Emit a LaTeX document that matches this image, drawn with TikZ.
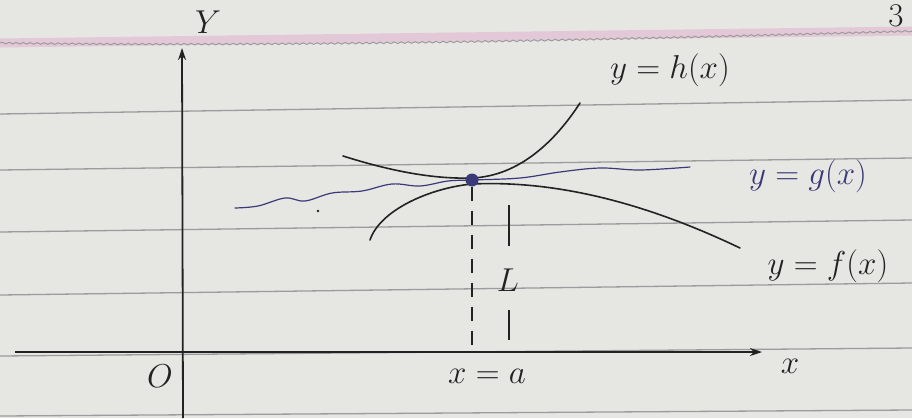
\documentclass[tikz,border=0pt]{standalone}
\usetikzlibrary{arrows.meta,decorations.pathmorphing}
\definecolor{paper}{HTML}{E6E6E3}
\definecolor{rule}{HTML}{9C9C9C}
\definecolor{pinkrule}{HTML}{E2B4CF}
\definecolor{ink}{HTML}{222222}
\definecolor{blueink}{HTML}{3B3A78}
\tikzset{
  ruled/.style={rule, line width=1.3pt},
  curve/.style={ink, line width=1.6pt, line cap=round},
  axis/.style={ink, line width=1.8pt, -{Stealth[length=12pt,width=8pt]}},
  lbl/.style={ink, font=\fontsize{24}{28}\selectfont, inner sep=1pt, scale=1.33},
  bluelbl/.style={blueink, font=\fontsize{24}{28}\selectfont, inner sep=1pt, scale=1.33},
}
\begin{document}
\begin{tikzpicture}[x=1pt,y=-1pt]
\fill[paper] (0,0) rectangle (912,418);
\useasboundingbox (0,0) rectangle (912,418);
% notebook rules
\draw[pinkrule, line width=9pt, opacity=0.6] (0,43) -- (912,31);
\draw[rule, line width=1pt, decorate, decoration={snake, amplitude=0.8pt, segment length=7pt}] (0,43) .. controls (300,47) and (600,40) .. (912,31);
\draw[ruled] (0,114) -- (912,100);
\draw[ruled] (0,170) -- (912,158);
\draw[ruled] (0,232) -- (912,220);
\draw[ruled] (0,295) -- (912,283);
\draw[ruled] (0,356) -- (912,348);
\draw[ruled] (0,416) -- (912,410);
% axes
\coordinate (ybot) at (183,418);
\coordinate (ytop) at (182,48);
\coordinate (xleft) at (15,352);
\coordinate (xright) at (762,352);
\draw[axis] (ybot) -- (ytop);
\draw[axis] (xleft) -- (xright);
\node[lbl] (ylab) at (208,22) {$Y$};
\node[lbl] (xlab) at (790,366) {$x$};
\node[lbl] (olab) at (160,376) {$O$};
% curves
\coordinate (P) at (472,180);
\draw[curve] (343,156) .. controls (400,174) and (440,179) .. (472,178) .. controls (520,176) and (556,140) .. (580,103);
\draw[curve] (370,240) .. controls (380,210) and (430,188) .. (472,184) .. controls (560,180) and (650,205) .. (740,248);
\draw[blueink, line width=1.2pt, line cap=round] plot[smooth, tension=0.6] coordinates {(235,208) (258,206) (285,198) (305,201) (332,193) (362,191) (392,184) (420,186) (448,181) (472,180) (520,178) (560,172) (600,168) (640,170) (690,167)};
\fill[ink] (318,211) circle (1.3pt);
\node[circle, fill=blueink, inner sep=0pt, minimum size=13pt] (dot) at (P) {};
% vertical dashed line
\coordinate (A) at (472,352);
\draw[ink, line width=1.3pt, dash pattern=on 14pt off 10pt] (dot) -- (A);
% L marker
\coordinate (m1) at (509,205);
\coordinate (m2) at (509,246);
\coordinate (m3) at (509,310);
\coordinate (m4) at (509,340);
\draw[ink, line width=1.8pt] (m1) -- (m2);
\draw[ink, line width=1.8pt] (m3) -- (m4);
\node[lbl] (L) at (508,280) {$L$};
% labels
\node[lbl] (xa) at (487,376) {$x=a$};
\node[lbl] (hlab) at (670,70) {$y=h(x)$};
\node[bluelbl] (glab) at (808,176) {$y=g(x)$};
\coordinate (gend) at (690,167);
\node[lbl] (flab) at (828,266) {$y=f(x)$};
\node[lbl] (pg) at (896,16) {$3$};
\end{tikzpicture}
\end{document}
